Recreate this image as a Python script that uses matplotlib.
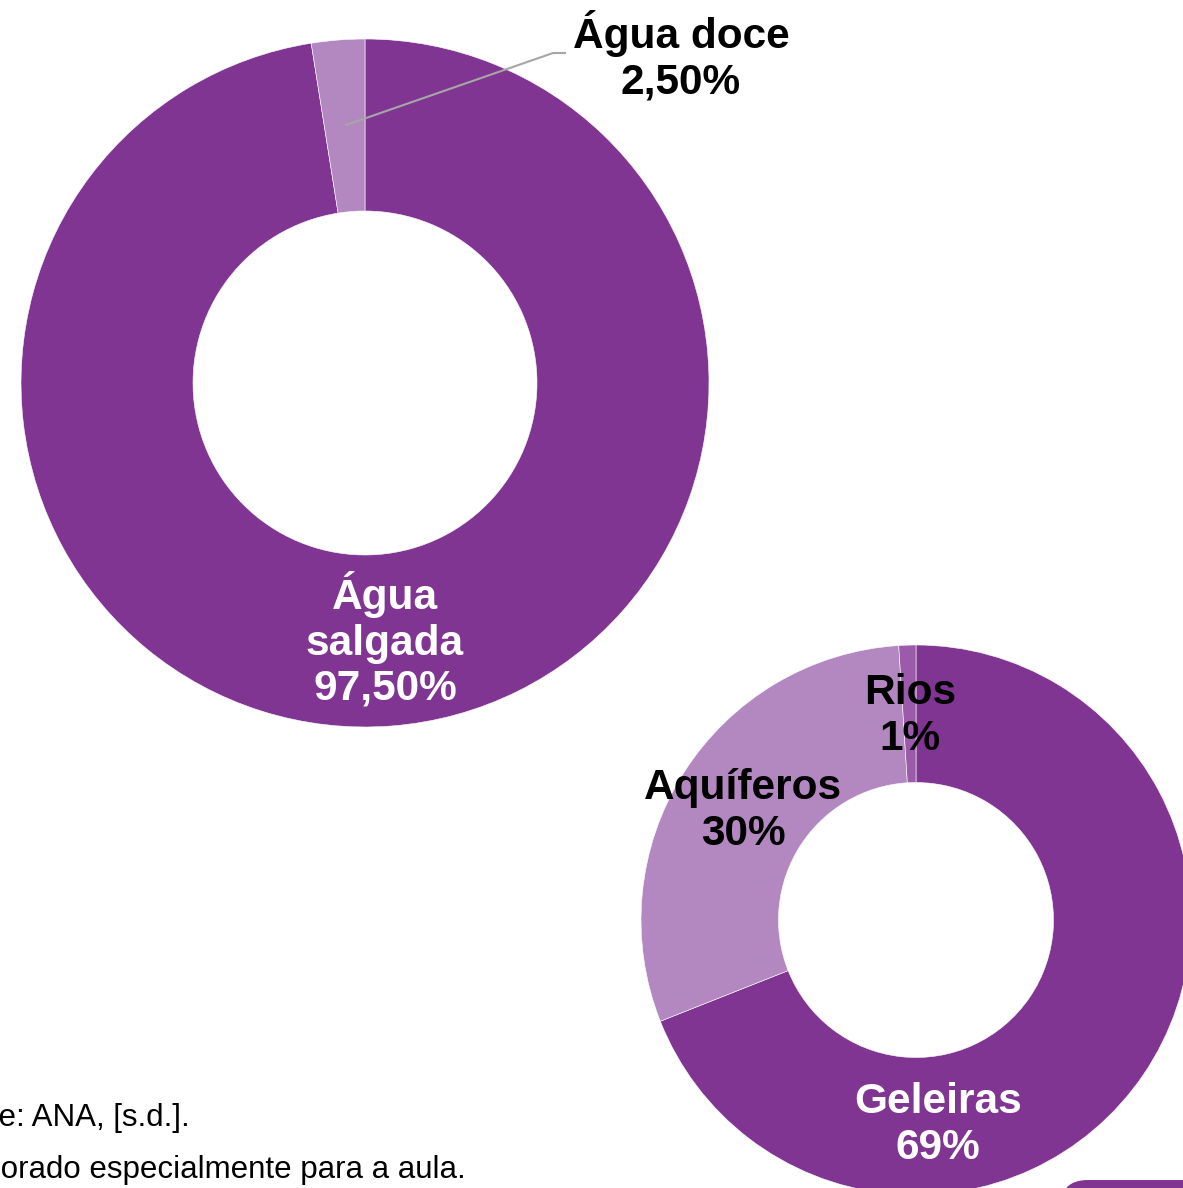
import matplotlib.pyplot as plt
from matplotlib.patches import FancyBboxPatch

plt.rcParams['font.family'] = ['Liberation Sans', 'DejaVu Sans']

# Dados
total_labels = ['Água\nsalgada\n97,50%', 'Água doce\n2,50%']
total_values = [97.5, 2.5]
doce_labels = ['Geleiras\n69%', 'Aquíferos\n30%', 'Rios\n1%']
doce_values = [69, 30, 1]

dark = '#7F3591'
light = '#B388C0'
mid = '#9B5BAA'

W, H = 1183, 1188
fig = plt.figure(figsize=(W / 100, H / 100), dpi=100)
ax = fig.add_axes([0, 0, 1, 1])
ax.set_aspect('equal')

# Donut maior (água salgada x doce)
c1 = (365, H - 383)
r1 = 344
ax.pie(total_values, colors=[dark, light], startangle=90, counterclock=False,
       center=c1, radius=r1, frame=True,
       wedgeprops=dict(width=r1 * 0.5, edgecolor='white', linewidth=0.4))

# Donut menor (distribuição da água doce)
c2 = (916, H - 920)
r2 = 275
ax.pie(doce_values, colors=[dark, light, mid], startangle=90, counterclock=False,
       center=c2, radius=r2, frame=True,
       wedgeprops=dict(width=r2 * 0.5, edgecolor='white', linewidth=0.4))
ax.set_xlim(0, W)
ax.set_ylim(0, H)
ax.axis('off')

lab = dict(fontsize=30.5, fontweight='bold', ha='center', va='center', linespacing=1.17)
ax.text(385, H - 640, total_labels[0], color='white', **lab)
ax.text(681, H - 56, total_labels[1], color='black', **lab)
ax.plot([346, 553, 565], [H - 125, H - 53, H - 53], color='#A6A6A6', lw=1.5)

ax.text(938, H - 1125, doce_labels[0], color='white', **lab)
ax.text(743, H - 811, doce_labels[1], color='black', **lab)
ax.text(910, H - 716, doce_labels[2], color='black', **lab)

# Fonte (cortada à esquerda, como no original)
ax.text(190, H - 1118, 'Fonte: ANA, [s.d.].', fontsize=22.5, ha='right', va='center')
ax.text(466, H - 1170, 'Elaborado especialmente para a aula.', fontsize=22.5,
        ha='right', va='center')

# Elemento decorativo no canto
ax.add_patch(FancyBboxPatch((1060, -60), 200, 68,
                            boxstyle='round,pad=0,rounding_size=28',
                            facecolor=dark, edgecolor='none'))

fig.savefig('out.png', dpi=100)
